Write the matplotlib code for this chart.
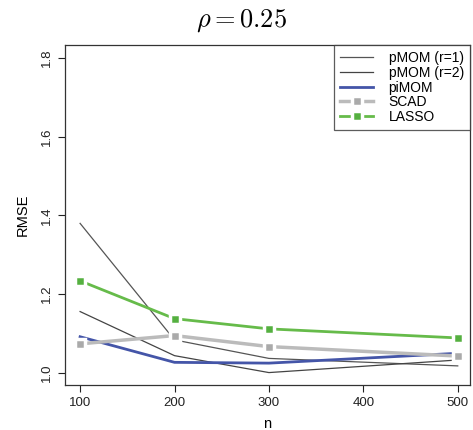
import matplotlib
matplotlib.use('Agg')
import matplotlib.pyplot as plt

plt.rcParams['font.family'] = ['Liberation Sans', 'DejaVu Sans']
plt.rcParams['mathtext.fontset'] = 'cm'

n = [100, 200, 300, 500]
pmom_r1 = [1.380, 1.084, 1.037, 1.018]
pmom_r2 = [1.156, 1.044, 1.001, 1.033]
pimom = [1.092, 1.027, 1.025, 1.050]
scad = [1.074, 1.095, 1.067, 1.043]
lasso = [1.234, 1.138, 1.112, 1.089]

fig = plt.figure(figsize=(4.73, 4.30), dpi=100)
ax = fig.add_axes([0.1374, 0.1047, 0.8563, 0.7906])

ax.plot(n, pmom_r1, color='#555555', lw=0.9, label='pMOM (r=1)')
ax.plot(n, pmom_r2, color='#444444', lw=0.9, label='pMOM (r=2)')
ax.plot(n, pimom, color='#4455A8', lw=2, label='piMOM')
ax.plot(n, scad, color='#BBBBBB', lw=2.5, marker='s', ms=7,
        mfc='#AAAAAA', mec='white', mew=2.5, label='SCAD')
ax.plot(n, lasso, color='#66BB4A', lw=2, marker='s', ms=7,
        mfc='#55B040', mec='white', mew=2.5, label='LASSO')

ax.set_xlim(84, 513)
ax.set_ylim(0.9695, 1.833)
ax.set_xticks([100, 200, 300, 400, 500])
ax.set_yticks([1.0, 1.2, 1.4, 1.6, 1.8])
ax.set_yticklabels(['1.0', '1.2', '1.4', '1.6', '1.8'], rotation=90, va='center')
ax.tick_params(direction='out', length=5, width=0.8, labelsize=9.5, colors='#222222')
for s in ax.spines.values():
    s.set_color('#333333')
    s.set_linewidth(0.9)

ax.set_xlabel('n', fontsize=10.5, labelpad=6)
ax.set_ylabel('RMSE', fontsize=10.5, labelpad=8)
fig.text(0.51, 0.953, r'$\rho = 0.25$', fontsize=19, ha='center', va='center')

leg = ax.legend(loc='upper right', fontsize=10, frameon=True, fancybox=False,
                borderaxespad=0, handlelength=2.4, labelspacing=0.05,
                borderpad=0.45, handletextpad=1.1, numpoints=1)
leg.get_frame().set_edgecolor('#333333')
leg.get_frame().set_linewidth(0.9)

fig.savefig('out.png', dpi=100)
